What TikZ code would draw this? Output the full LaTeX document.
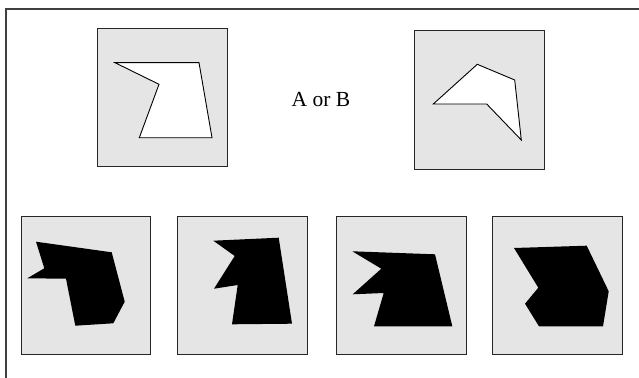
\documentclass[tikz,border=0pt]{standalone}
\usepackage{fontspec}
\setmainfont{Liberation Serif}
\begin{document}
\begin{tikzpicture}[x=1pt,y=-1pt,
  panel/.style={draw=black!85,line width=0.9pt,fill=gray!20},
  whiteshape/.style={draw=black,line width=0.9pt,fill=white,line join=miter},
  blackshape/.style={fill=black},
  frameline/.style={draw=black!75,line width=1.3pt}]
\useasboundingbox (0,0) rectangle (639,377);
% outer frame (top and left edges)
\draw[frameline] (6,378) -- (6,9) -- (640,9);
% top panels
\draw[panel] (97,28) rectangle (227,166);
\draw[whiteshape] (115,62.7) -- (199,62.7) -- (212,137.7) -- (139.3,137.7) -- (159,84.3) -- cycle;
\draw[panel] (414,30) rectangle (544,169);
\draw[whiteshape] (433.3,104) -- (477.3,64.3) -- (514.7,80) -- (521.3,140) -- (486.7,104) -- cycle;
\node[font=\fontsize{21.5}{24}\selectfont, anchor=base, inner sep=0pt] (q) at (321,106.5) {A or B};
% bottom panels
\draw[panel] (21,216) rectangle (150,354);
\fill[blackshape] (36,241.7) -- (111.7,252.3) -- (124.7,301.7) -- (113.3,323.3) -- (75.3,325.7) -- (66,278.7) -- (27.3,278.3) -- (44.3,268.3) -- cycle;
\draw[panel] (177,216) rectangle (307,354);
\fill[blackshape] (213.3,240.7) -- (278.7,237.7) -- (292,323.7) -- (232,324.3) -- (237.7,285) -- (214,288.7) -- (234.7,256) -- cycle;
\draw[panel] (336,216) rectangle (466,354);
\fill[blackshape] (352.3,251.3) -- (435,254.3) -- (452.3,326.3) -- (374,326.3) -- (383.7,293) -- (352.7,294.3) -- (381.3,268.7) -- cycle;
\draw[panel] (492,216) rectangle (622,354);
\fill[blackshape] (514,248) -- (586.7,245.7) -- (608.7,291.3) -- (603,326.3) -- (539,326.3) -- (525,303.7) -- (538.3,287.7) -- cycle;
\end{tikzpicture}
\end{document}
